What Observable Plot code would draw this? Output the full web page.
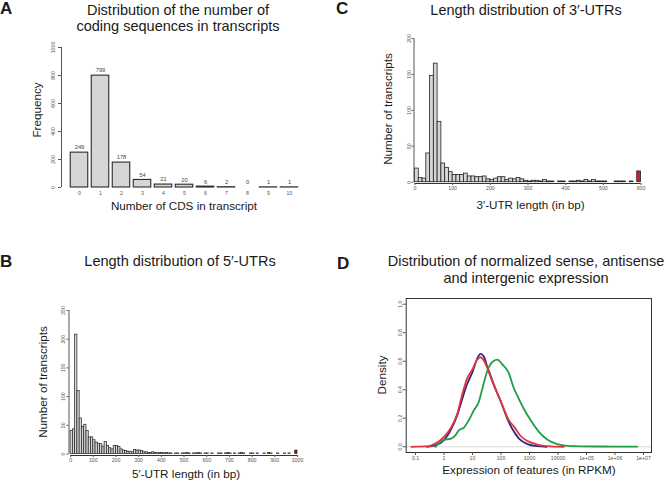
<!DOCTYPE html>
<html><head><meta charset="utf-8">
<script src="https://cdn.jsdelivr.net/npm/d3@7"></script>
<script src="https://cdn.jsdelivr.net/npm/@observablehq/plot@0.6"></script>
<style>
body{margin:0;background:#fff;}
#fig{position:relative;width:666px;height:485px;overflow:hidden;font-family:"Liberation Sans",Arial,sans-serif;color:#1a1a1a;background:#fff;}
.t{position:absolute;white-space:nowrap;line-height:1;}
</style></head><body><div id="fig"></div>
<script>
// ---------- Panel A: number of CDS per transcript ----------
const cdsCategories = ["0","1","2","3","4","5","6","7","8","9","10"];
const cdsCounts = [249, 799, 178, 54, 21, 20, 6, 2, 0, 1, 1];
const cdsYTicks = [0, 200, 400, 600, 800, 1000];

// ---------- Panel B: 5'-UTR length histogram (10 bp bins, 0-1000) ----------
const utr5BinWidth = 10;
const utr5Counts = [
  40, 43, 208, 110, 62, 47, 51, 40, 29, 29,
  24, 20, 18, 17, 13, 21, 14, 10, 8, 14,
  14, 12, 8, 6, 5, 4, 4, 3, 7, 6,
  6, 5, 3, 3, 2, 2, 3, 2, 1, 2,
  2, 1, 2, 1, 1, 0, 1, 1, 0, 1,
  1, 2, 1, 0, 1, 1, 2, 1, 0, 1,
  1, 0, 1, 0, 0, 1, 1, 0, 1, 2,
  1, 0, 1, 0, 1, 2, 1, 0, 0, 1,
  1, 0, 1, 0, 0, 1, 0, 2, 1, 0,
  0, 1, 0, 0, 1, 0, 1, 0, 0, 6
];
const utr5XTicks = [0,100,200,300,400,500,600,700,800,900,1000];
const utr5YTicks = [0,50,100,150,200,250];

// ---------- Panel C: 3'-UTR length histogram (10 bp bins, 0-600) ----------
const utr3BinWidth = 10;
const utr3Counts = [
  19, 6, 5, 40, 148, 165, 84, 26, 20, 14,
  10, 10, 10, 12, 8, 8, 7, 7, 8, 4,
  3, 5, 7, 7, 3, 5, 4, 6, 4, 2,
  1, 2, 2, 1, 3, 1, 1, 0, 1, 1,
  0, 1, 1, 2, 1, 3, 1, 3, 1, 1,
  1, 0, 0, 1, 1, 1, 0, 1, 0, 15
];
const utr3XTicks = [0,100,200,300,400,500,600];
const utr3YTicks = [0,50,100,150,200];

// ---------- Panel D: density of expression (RPKM, log scale) ----------
const senseRPKM    = [0.25, 0.5, 1, 1.7, 2.9, 4.4, 6.5, 9.8, 14.5, 19, 25, 32, 43, 63, 95, 166, 245, 427, 851, 1900, 4000];
const senseDensity = [0, 0.01, 0.047, 0.116, 0.22, 0.337, 0.44, 0.52, 0.616, 0.651, 0.633, 0.57, 0.5, 0.41, 0.326, 0.198, 0.128, 0.058, 0.019, 0.004, 0];
const antisenseRPKM    = [0.072, 0.3, 0.5, 1, 1.7, 2.9, 4.4, 6.5, 9.8, 14.5, 19, 25, 32, 43, 95, 190, 290, 500, 850, 1900, 4300, 16000];
const antisenseDensity = [0, 0.004, 0.023, 0.07, 0.128, 0.23, 0.37, 0.48, 0.54, 0.61, 0.628, 0.605, 0.56, 0.49, 0.326, 0.186, 0.14, 0.074, 0.04, 0.016, 0.005, 0];
const intergenicRPKM    = [0.5, 0.76, 1, 1.7, 2.5, 3.3, 5, 7.4, 11.2, 16.6, 23, 32, 49, 74, 110, 182, 288, 372, 631, 1100, 2140, 4170, 9330, 20900, 61700, 316000, 6000000];
const intergenicDensity = [0, 0.035, 0.05, 0.056, 0.08, 0.116, 0.135, 0.186, 0.256, 0.314, 0.42, 0.523, 0.593, 0.612, 0.58, 0.523, 0.407, 0.36, 0.267, 0.186, 0.105, 0.051, 0.019, 0.007, 0.003, 0.002, 0.001];
const densXTicks = [0.1, 1, 10, 100, 1000, 10000, 1e5, 1e6, 1e7];
const densXTickLabels = ["0.1","1","10","100","1000","10000","1e+05","1e+06","1e+07"];
const densYTicks = [0, 0.2, 0.4, 0.6, 0.8, 1.0];

// ---------- helpers ----------
const fig = document.getElementById("fig");
const FONT = "'Liberation Sans', Arial, sans-serif";
function txt(s, x, base, size, {anchor = "middle", bold = false, rotate = false} = {}) {
  const d = document.createElement("div");
  d.className = "t"; d.textContent = s; d.style.fontSize = size + "px";
  if (bold) d.style.fontWeight = "bold";
  if (rotate) {
    d.style.left = (x - 0.3465 * size) + "px"; d.style.top = base + "px";
    d.style.transform = "translate(-50%,-50%) rotate(-90deg)";
  } else {
    d.style.left = x + "px"; d.style.top = (base - 0.8465 * size) + "px";
    if (anchor === "middle") d.style.transform = "translateX(-50%)";
  }
  fig.appendChild(d);
}
function put(svg, left, top) {
  svg.style.position = "absolute"; svg.style.left = left + "px"; svg.style.top = top + "px";
  fig.appendChild(svg);
}
const TICKC = "#555", TF = 5.2;
const plain = d => String(d);
const style = {background: "none", fontFamily: FONT, overflow: "visible"};

// ---------- Panel A ----------
const cdsData = cdsCategories.map((c, i) => ({i, c, n: cdsCounts[i]}));
put(Plot.plot({
  width: 320, height: 175, marginLeft: 61, marginRight: 20, marginTop: 17, marginBottom: 18,
  style,
  x: {domain: [-0.857, 10.524], axis: null},
  y: {domain: [0, 1000], axis: null},
  marks: [
    Plot.rect(cdsData, {x1: d => d.i - 0.417, x2: d => d.i + 0.417, y1: () => 0, y2: "n", fill: "#d5d5d5", stroke: "#2a2a2a", strokeWidth: 1.1}),
    Plot.text(cdsData, {x: "i", y: "n", text: d => String(d.n), dy: -5, fontSize: 5.8, fill: "#444"}),
    Plot.axisX({ticks: cdsData.map(d => d.i), tickFormat: i => cdsCategories[i], tickSize: 0, tickPadding: 4, fontSize: TF, color: TICKC, label: null}),
    Plot.axisY({ticks: cdsYTicks, tickFormat: plain, tickSize: 3, tickPadding: 3.5, tickRotate: -90, fontSize: TF, color: TICKC, label: null}),
    Plot.ruleX([-0.857], {y1: () => 0, y2: () => 1000, stroke: TICKC})
  ]
}), 0, 30);

// ---------- Panel B ----------
const utr5Data = utr5Counts.map((n, i) => ({x1: i * utr5BinWidth, x2: (i + 1) * utr5BinWidth, n, last: i === utr5Counts.length - 1}));
put(Plot.plot({
  width: 320, height: 180, marginLeft: 68.5, marginRight: 23, marginTop: 20, marginBottom: 15,
  style,
  x: {domain: [-7, 1000], axis: null},
  y: {domain: [-2.6, 250], axis: null},
  marks: [
    Plot.rect(utr5Data.filter(d => !d.last), {x1: "x1", x2: "x2", y1: () => 0, y2: "n", fill: "#d5d5d5", stroke: "#222", strokeWidth: 0.7}),
    Plot.rect(utr5Data.filter(d => d.last), {x1: "x1", x2: "x2", y1: () => 0, y2: "n", fill: "#7e1f2d", stroke: "#222", strokeWidth: 0.7}),
    Plot.ruleX([-7], {y1: () => 0, y2: () => 250, stroke: TICKC}),
    Plot.ruleY([-2.6], {x1: () => 0, x2: () => 1000, stroke: "#333"}),
    Plot.axisX({ticks: utr5XTicks, tickFormat: plain, tickSize: 2, tickPadding: 1, fontSize: TF, color: TICKC, label: null}),
    Plot.axisY({ticks: utr5YTicks, tickFormat: plain, tickSize: 2, tickPadding: 2, tickRotate: -90, fontSize: TF, color: TICKC, label: null})
  ]
}), 0, 290);

// ---------- Panel C ----------
const utr3Data = utr3Counts.map((n, i) => ({x1: i * utr3BinWidth, x2: (i + 1) * utr3BinWidth, n, last: i === utr3Counts.length - 1}));
put(Plot.plot({
  width: 320, height: 175, marginLeft: 73.5, marginRight: 19.5, marginTop: 10, marginBottom: 20,
  style,
  x: {domain: [-2.7, 600], axis: null},
  y: {domain: [-1.8, 200], axis: null},
  marks: [
    Plot.rect(utr3Data.filter(d => !d.last), {x1: "x1", x2: "x2", y1: () => 0, y2: "n", fill: "#d5d5d5", stroke: "#222", strokeWidth: 0.8}),
    Plot.rect(utr3Data.filter(d => d.last), {x1: "x1", x2: "x2", y1: () => 0, y2: "n", fill: "#c8232c", stroke: "#222", strokeWidth: 0.8}),
    Plot.ruleX([-2.7], {y1: () => 0, y2: () => 200, stroke: TICKC}),
    Plot.ruleY([-1.8], {x1: () => 0, x2: () => 600, stroke: "#333"}),
    Plot.axisX({ticks: utr3XTicks, tickFormat: plain, tickSize: 2, tickPadding: 1, fontSize: TF, color: TICKC, label: null}),
    Plot.axisY({ticks: utr3YTicks, tickFormat: plain, tickSize: 2, tickPadding: 1.5, tickRotate: -90, fontSize: TF, color: TICKC, label: null})
  ]
}), 340, 28);

// ---------- Panel D ----------
const zip = (xs, ys) => xs.map((x, i) => ({x, y: ys[i]}));
put(Plot.plot({
  width: 326, height: 185, marginLeft: 65.7, marginRight: 15, marginTop: 13, marginBottom: 18,
  style,
  x: {type: "log", domain: [0.0472, 1.91e7], axis: null},
  y: {domain: [-0.04, 1.04], axis: null},
  marks: [
    Plot.ruleY([0], {stroke: "#d9d9d9", strokeWidth: 1}),
    Plot.line(zip(senseRPKM, senseDensity), {x: "x", y: "y", stroke: "#2b2a7e", strokeWidth: 1.8, curve: "monotone-x"}),
    Plot.line(zip(intergenicRPKM, intergenicDensity), {x: "x", y: "y", stroke: "#1f9e45", strokeWidth: 1.8, curve: "monotone-x"}),
    Plot.line(zip(antisenseRPKM, antisenseDensity), {x: "x", y: "y", stroke: "#e2343c", strokeWidth: 1.8, curve: "monotone-x"}),
    Plot.frame({stroke: "#333", strokeWidth: 1}),
    Plot.axisX({ticks: densXTicks, tickFormat: d => densXTickLabels[densXTicks.indexOf(d)], tickSize: 3, tickPadding: 1, fontSize: TF, color: TICKC, label: null}),
    Plot.axisY({ticks: densYTicks, tickFormat: d => d.toFixed(1), tickSize: 3, tickPadding: 1, tickRotate: -90, fontSize: TF, color: TICKC, label: null})
  ]
}), 340, 285);

// ---------- texts ----------
txt("A", 0, 14.5, 17, {anchor: "start", bold: true});
txt("Distribution of the number of", 178, 15, 14.5);
txt("coding sequences in transcripts", 178, 31.5, 14.5);
txt("Number of CDS in transcript", 184, 209.5, 11.7);
txt("Frequency", 41, 110, 11.7, {rotate: true});

txt("C", 336, 14.5, 17, {anchor: "start", bold: true});
txt("Length distribution of 3\u2032-UTRs", 526, 15, 14.5);
txt("3\u2032-UTR length (in bp)", 530.5, 209, 11.7);
txt("Number of transcripts", 392, 109, 11.7, {rotate: true});

txt("B", 0, 267.5, 17, {anchor: "start", bold: true});
txt("Length distribution of 5\u2032-UTRs", 180, 266.5, 14.5);
txt("5\u2032-UTR length (in bp)", 186, 478, 11.7);
txt("Number of transcripts", 47.5, 381.7, 11.7, {rotate: true});

txt("D", 337, 269.5, 17, {anchor: "start", bold: true});
txt("Distribution of normalized sense, antisense", 526, 266.5, 14.5);
txt("and intergenic expression", 526, 283, 14.5);
txt("Expression of features (in RPKM)", 529, 473.5, 11.7);
txt("Density", 386, 375, 11.7, {rotate: true});
</script>
</body></html>
